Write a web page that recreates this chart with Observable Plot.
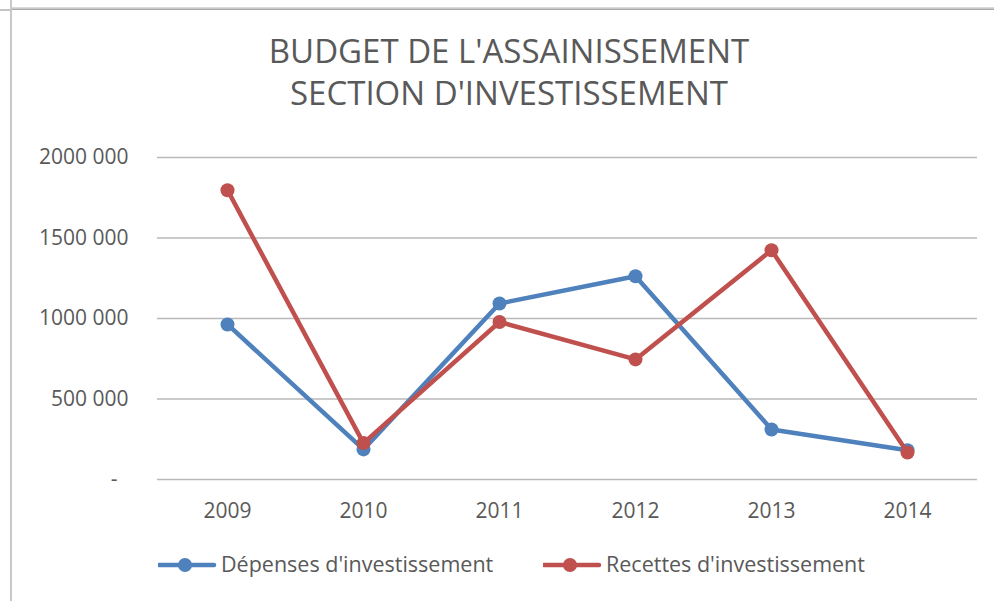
<!DOCTYPE html>
<html>
<head>
<meta charset="utf-8">
<script src="https://cdn.jsdelivr.net/npm/d3@7"></script>
<script src="https://cdn.jsdelivr.net/npm/@observablehq/plot@0.6"></script>
<style>
  body { margin: 0; background: #fff; }
  #wrap { position: relative; width: 994px; height: 601px; overflow: hidden; font-family: "Open Sans", sans-serif; color: #595959; background: #fff; }
  #chart { position: absolute; left: 0; top: 0; }
  #title { position: absolute; left: 0; top: 30px; width: 1018px; text-align: center; font-size: 33px; line-height: 42px; color: #595959; white-space: nowrap; }
  .legtext { position: absolute; font-size: 21.5px; line-height: 20px; color: #595959; white-space: nowrap; }
  .legsym { position: absolute; }
  .b { position: absolute; }
</style>
</head>
<body>
<div id="wrap">
  <div class="b" style="left:11px;top:7px;width:983px;height:1px;background:#dadada"></div>
  <div class="b" style="left:11px;top:8px;width:983px;height:1px;background:#c9c9c9"></div>
  <div class="b" style="left:11px;top:9px;width:983px;height:1px;background:#a9a9a9"></div>
  <div class="b" style="left:0px;top:9px;width:11px;height:2px;background:#c4c4c4"></div>
  <div class="b" style="left:10px;top:0px;width:2px;height:601px;background:#c8c8c8"></div>
  <div id="chart"></div>
  <div id="title"></div>
  <div id="legend"></div>
</div>
<script>
const titleLines = ["BUDGET DE L'ASSAINISSEMENT", "SECTION D'INVESTISSEMENT"];
const years = ["2009", "2010", "2011", "2012", "2013", "2014"];
const depenses = [963000, 187000, 1093000, 1262000, 311000, 182000];
const recettes = [1797000, 226000, 978000, 746000, 1424000, 168000];
const seriesNames = ["Dépenses d'investissement", "Recettes d'investissement"];
const seriesColors = ["#4F81BD", "#C0504D"];
const yTicks = [0, 500000, 1000000, 1500000, 2000000];
const yTickLabels = ["-\u00a0\u00a0", "500 000", "1000 000", "1500 000", "2000 000"];

document.getElementById("title").innerHTML = titleLines.join("<br>");

const seriesValues = [depenses, recettes];
const data = [];
seriesNames.forEach((s, k) => {
  years.forEach((y, i) => data.push({ year: y, value: seriesValues[k][i], series: s }));
});

const marks = [Plot.ruleY(yTicks, { stroke: "#b9b9b9", strokeWidth: 1.5 })];
seriesNames.forEach((s) => {
  const d = data.filter((r) => r.series === s);
  marks.push(Plot.line(d, { x: "year", y: "value", stroke: "series", strokeWidth: 4.5, strokeLinejoin: "round", strokeLinecap: "round" }));
  marks.push(Plot.dot(d, { x: "year", y: "value", fill: "series", r: 7, stroke: "none" }));
});

const chart = Plot.plot({
  width: 994,
  height: 601,
  marginTop: 157,
  marginBottom: 122,
  marginLeft: 157,
  marginRight: 17,
  x: { type: "point", domain: years, padding: 0.5, label: null, tickSize: 0, tickPadding: 24 },
  y: { domain: [0, 2000000], ticks: yTicks, tickFormat: (d) => yTickLabels[yTicks.indexOf(d)], label: null, tickSize: 0, tickPadding: 29 },
  color: { domain: seriesNames, range: seriesColors },
  style: { fontFamily: "Open Sans", fontSize: "21px", color: "#595959", background: "transparent", overflow: "visible" },
  marks
});
document.getElementById("chart").appendChild(chart);

// legend
const legend = document.getElementById("legend");
const legendX = [158, 543];
seriesNames.forEach((s, k) => {
  const x0 = legendX[k];
  const sym = document.createElementNS("http://www.w3.org/2000/svg", "svg");
  sym.setAttribute("class", "legsym");
  sym.setAttribute("width", 60);
  sym.setAttribute("height", 20);
  sym.style.left = x0 + "px";
  sym.style.top = (565 - 10) + "px";
  sym.innerHTML = `<line x1="1" y1="10" x2="56" y2="10" stroke="${seriesColors[k]}" stroke-width="4.5" stroke-linecap="round"/><circle cx="27" cy="10" r="7" fill="${seriesColors[k]}"/>`;
  legend.appendChild(sym);
  const t = document.createElement("div");
  t.className = "legtext";
  t.style.left = (x0 + 63) + "px";
  t.style.top = "554px";
  t.textContent = s;
  legend.appendChild(t);
});
</script>
</body>
</html>
